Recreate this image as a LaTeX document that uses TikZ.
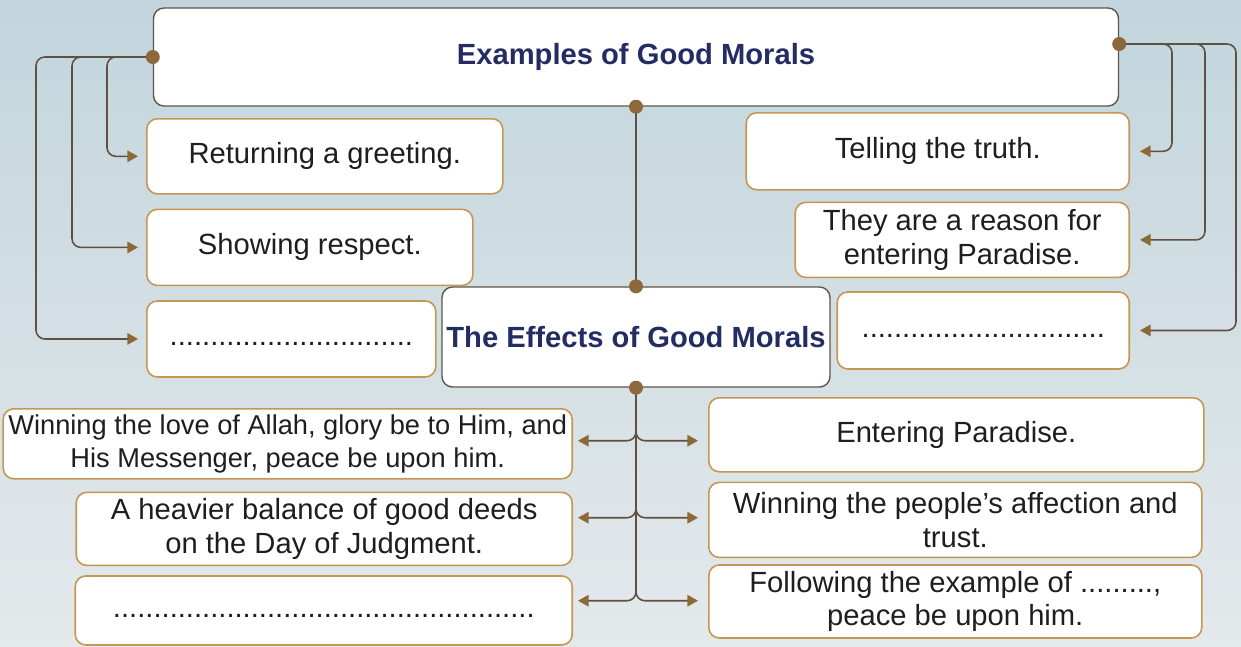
\documentclass[tikz,border=0pt]{standalone}
\usepackage{fontspec}
\setmainfont{Liberation Sans}
\usepackage{xcolor}
\usepackage{tikz}
\usetikzlibrary{arrows.meta, positioning, calc}
\definecolor{framedark}{RGB}{95,85,75}
\definecolor{frameorange}{RGB}{198,150,82}
\definecolor{linebrown}{RGB}{95,80,65}
\definecolor{tipbrown}{RGB}{140,105,55}
\definecolor{dotbrown}{RGB}{140,105,60}
\definecolor{titleblue}{RGB}{35,45,100}
\definecolor{itemtext}{RGB}{30,30,30}
\definecolor{bgtop}{RGB}{194,213,221}
\definecolor{bgbot}{RGB}{228,233,235}
\tikzset{
  headbox/.style={rectangle, draw=framedark, fill=white, rounded corners=6pt,
    line width=0.8pt, text=titleblue, inner sep=0pt,
    font=\bfseries\fontsize{16.6}{20}\selectfont},
  itembox/.style={rectangle, draw=frameorange, fill=white, rounded corners=6pt,
    line width=0.9pt, align=center, inner sep=0pt, text=itemtext,
    font=\fontsize{16.6}{19}\selectfont},
  link/.style={line width=0.9pt, color=linebrown, rounded corners=5pt},
  linkarrow/.style={link, -{Triangle[length=6pt, width=6.5pt, color=tipbrown]}},
  joint/.style={circle, fill=dotbrown, minimum size=0.28cm, inner sep=0pt}
}

\begin{document}
\begin{tikzpicture}
  % background
  \fill[top color=bgtop, bottom color=bgbot] (0,0) rectangle (24.82,-12.92);
  \useasboundingbox (0,0) rectangle (24.82,-12.92);

  % headings
  \node[headbox, minimum width=19.3cm, minimum height=1.96cm] (examples) at (12.72,-1.14) {\raisebox{0.1cm}{Examples of Good Morals}};
  \node[headbox, minimum width=7.76cm, minimum height=2.0cm] (effects) at (12.72,-6.74) {The Effects of Good Morals};

  % examples, left
  \node[itembox, minimum width=7.12cm, minimum height=1.5cm, anchor=north west] (greet) at (2.92,-2.36) {Returning a greeting.};
  \node[itembox, minimum width=6.52cm, minimum height=1.52cm, below=0.28cm of greet.south west, anchor=north west] (respect) {Showing respect.};
  \node[itembox, minimum width=5.78cm, minimum height=1.52cm, below=0.28cm of respect.south west, anchor=north west] (blankl) {\strut..............................};

  % examples, right
  \node[itembox, minimum width=7.66cm, minimum height=1.54cm, anchor=north east] (truth) at (22.6,-2.24) {Telling the truth.};
  \node[itembox, minimum width=6.68cm, minimum height=1.5cm, below=0.22cm of truth.south east, anchor=north east] (reason) {They are a reason for\\entering Paradise.};
  \node[itembox, minimum width=5.84cm, minimum height=1.54cm, below=0.26cm of reason.south east, anchor=north east] (blankr) {\strut..............................};

  % effects, left
  \node[itembox, minimum width=11.38cm, minimum height=1.4cm, anchor=north east, font=\fontsize{15.5}{18.5}\selectfont] (love) at (11.46,-8.16) {Winning the love of Allah, glory be to Him, and\\His Messenger, peace be upon him.};
  \node[itembox, minimum width=9.92cm, minimum height=1.46cm, below=0.24cm of love.south east, anchor=north east] (balance) {A heavier balance of good deeds\\on the Day of Judgment.};
  \node[itembox, minimum width=9.94cm, minimum height=1.38cm, below=0.18cm of balance.south east, anchor=north east] (blankb) {\strut....................................................};

  % effects, right
  \node[itembox, minimum width=9.9cm, minimum height=1.48cm, anchor=north west] (paradise) at (14.16,-7.94) {Entering Paradise.};
  \node[itembox, minimum width=9.86cm, minimum height=1.5cm, below=0.18cm of paradise.south west, anchor=north west] (people) {Winning the people’s affection and\\trust.};
  \node[itembox, minimum width=9.86cm, minimum height=1.46cm, below=0.12cm of people.south west, anchor=north west] (follow) {Following the example of .........,\\peace be upon him.};

  % left links
  \draw[linkarrow, shorten >=0.16cm] (examples.west) -| ([xshift=-0.78cm]greet.west) -- (greet.west);
  \draw[linkarrow, shorten >=0.16cm] (examples.west) -| ([xshift=-1.48cm]respect.west) -- (respect.west);
  \draw[linkarrow, shorten >=0.16cm] (examples.west) -| ([xshift=-2.2cm]blankl.west) -- (blankl.west);

  % right links
  \coordinate (rstart) at ([yshift=0.26cm]examples.east);
  \draw[linkarrow, shorten >=0.2cm] (rstart) -| ([xshift=0.84cm]truth.east) -- (truth.east);
  \draw[linkarrow, shorten >=0.2cm] (rstart) -| ([xshift=1.5cm]reason.east) -- (reason.east);
  \draw[linkarrow, shorten >=0.2cm] (rstart) -| ([xshift=2.12cm]blankr.east) -- (blankr.east);

  % middle
  \draw[link] (examples.south) -- (effects.north);

  % branches
  \coordinate (b1) at ($(effects.south)+(0,-1.06)$);
  \coordinate (b2) at ($(effects.south)+(0,-2.6)$);
  \coordinate (b3) at ($(effects.south)+(0,-4.26)$);
  \draw[linkarrow, shorten >=0.1cm] (effects.south) |- (b1 -| love.east);
  \draw[linkarrow, shorten >=0.1cm] (effects.south) |- (b2 -| balance.east);
  \draw[linkarrow, shorten >=0.1cm] (effects.south) |- (b3 -| blankb.east);
  \draw[linkarrow, shorten >=0.2cm] (effects.south) |- (b1 -| paradise.west);
  \draw[linkarrow, shorten >=0.2cm] (effects.south) |- (b2 -| people.west);
  \draw[linkarrow, shorten >=0.2cm] (effects.south) |- (b3 -| follow.west);

  % joints
  \node[joint] (jl) at (examples.west) {};
  \node[joint] (jr) at (rstart) {};
  \node[joint] (jt) at (examples.south) {};
  \node[joint] (jm) at (effects.north) {};
  \node[joint] (jb) at (effects.south) {};
\end{tikzpicture}
\end{document}
